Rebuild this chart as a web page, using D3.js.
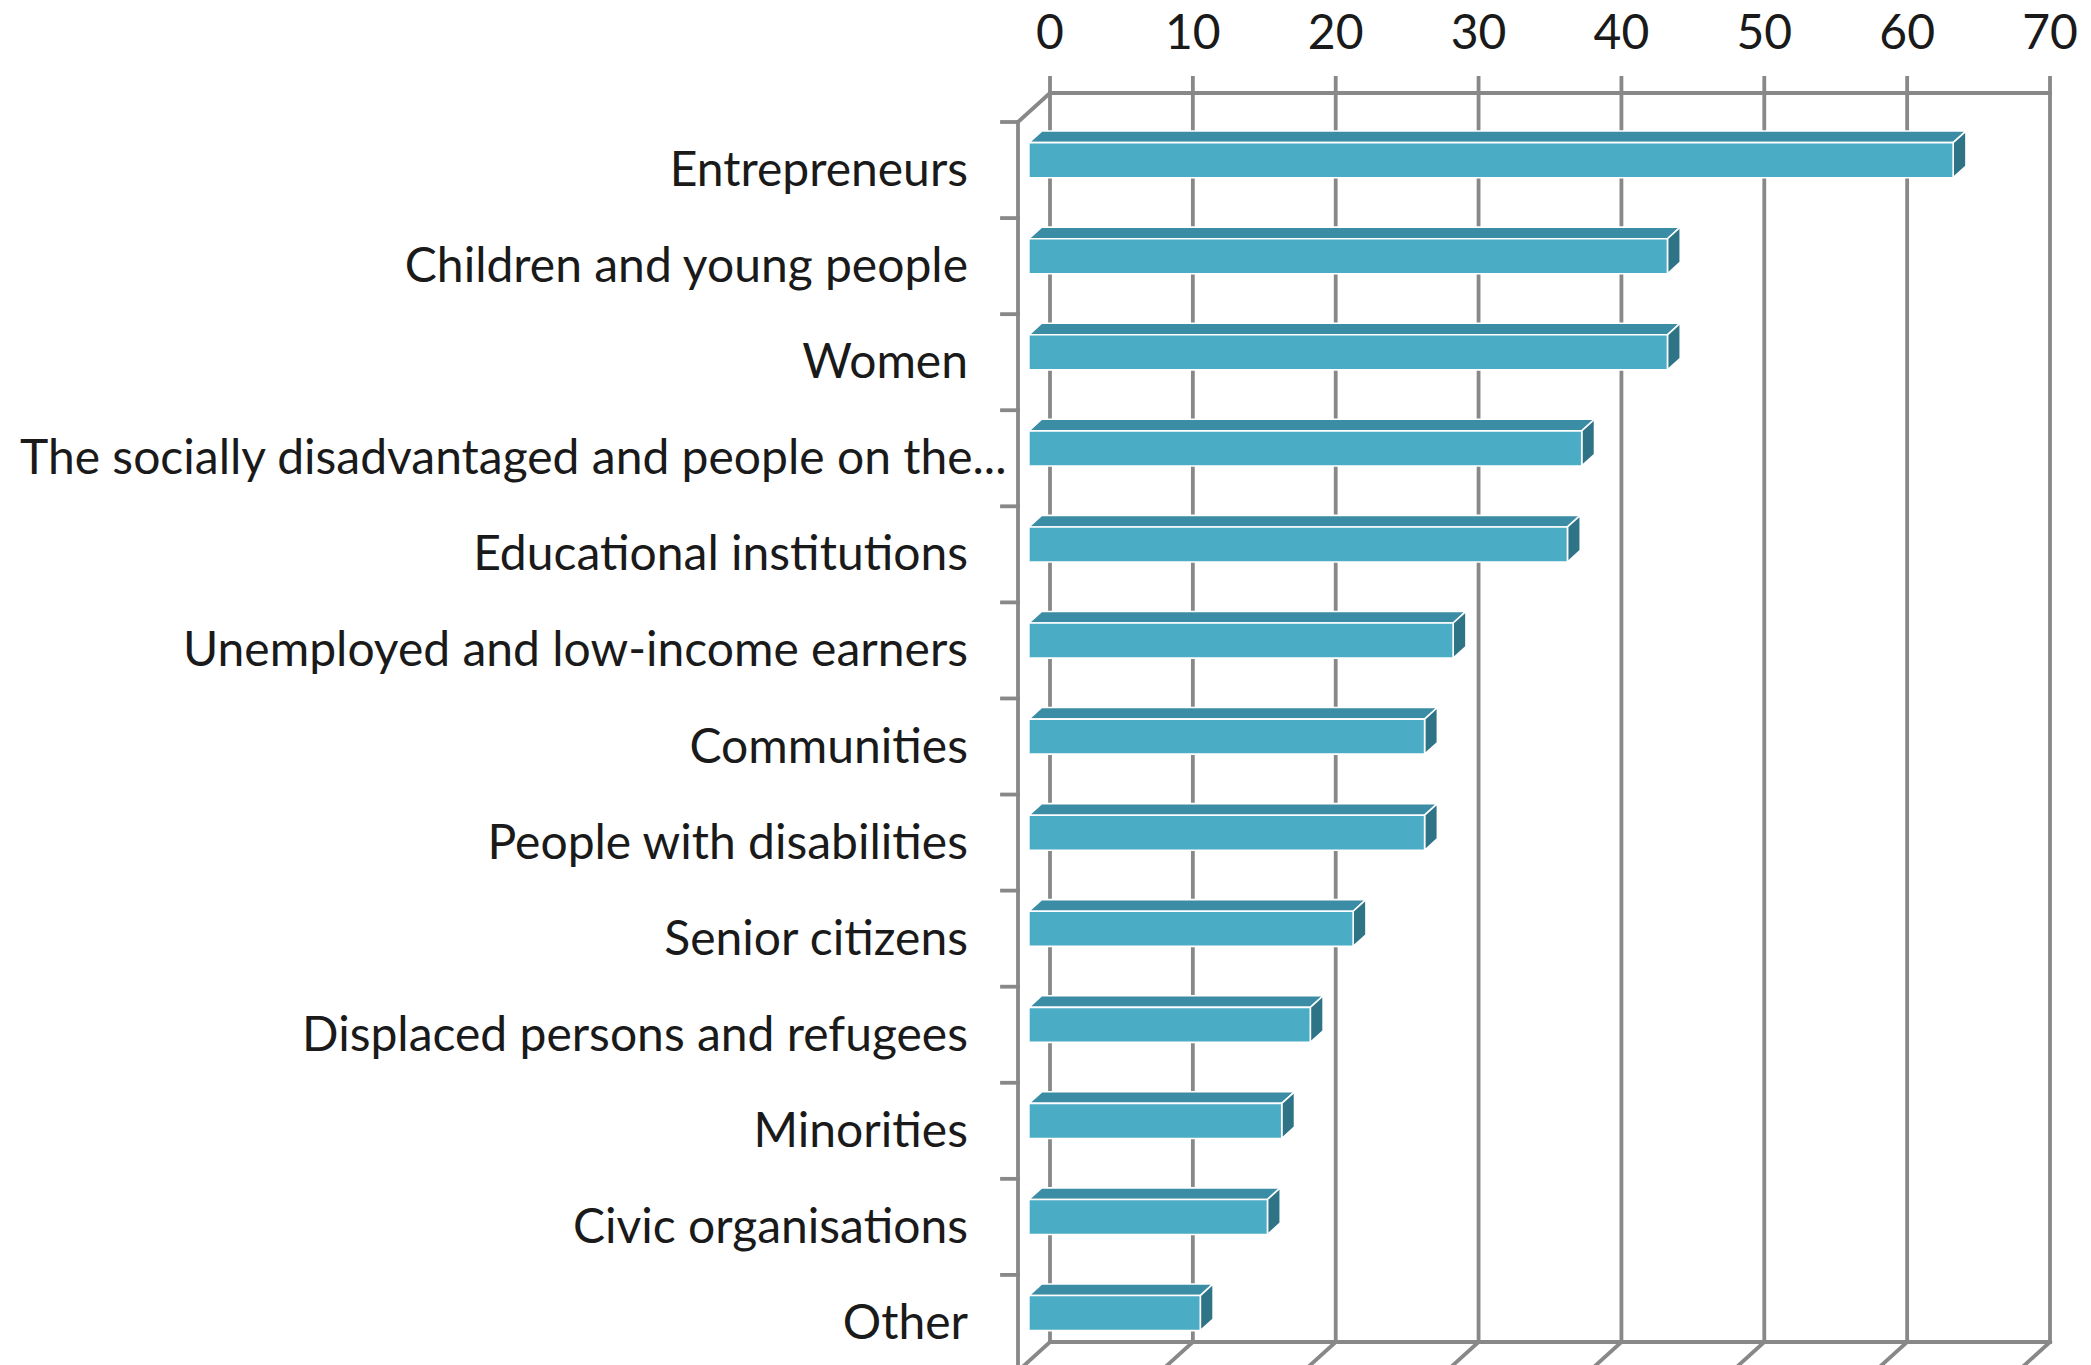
<!DOCTYPE html>
<html>
<head>
<meta charset="utf-8">
<script src="https://cdn.jsdelivr.net/npm/d3@7"></script>
<style>
  html, body { margin: 0; padding: 0; background: #ffffff; }
  svg { display: block; }
</style>
</head>
<body>
<svg id="chart" width="2091" height="1365"></svg>
<script>
// Target groups, listed top to bottom
const categories = [
  "Entrepreneurs",
  "Children and young people",
  "Women",
  "The socially disadvantaged and people on the...",
  "Educational institutions",
  "Unemployed and low-income earners",
  "Communities",
  "People with disabilities",
  "Senior citizens",
  "Displaced persons and refugees",
  "Minorities",
  "Civic organisations",
  "Other"
];

// Share of responses for each group
const values = [64.7, 44.7, 44.7, 38.7, 37.7, 29.7, 27.7, 27.7, 22.7, 19.7, 17.7, 16.7, 12.0];

// Value axis ticks
const tickValues = [0, 10, 20, 30, 40, 50, 60, 70];
const tickLabels = ["0", "10", "20", "30", "40", "50", "60", "70"];

const svg = d3.select("#chart");

// Oblique 3D box: the front plane is mapped by the scales, depth shifts up-right
const depthX = 32, depthY = -29;
const x = d3.scaleLinear().domain([0, 70]).range([1018, 2018]);
const y = d3.scaleBand().domain(categories).range([122, 1371])
  .paddingInner(0.635).paddingOuter(0.3175);
const proj = (px, py, d) => [px + d * depthX, py + d * depthY];

const gridColor = "#888888";
const gridWidth = 3.8;
const font = "Lato, 'Open Sans', sans-serif";
const fontSize = 48;

const walls = svg.append("g").attr("stroke", gridColor).attr("stroke-width", gridWidth)
  .attr("fill", "none").attr("stroke-linecap", "square");

const yTop = y.range()[0], yBot = y.range()[1];
const [bx0, byTop] = proj(x(0), yTop, 1);
const [bx1, byBot] = proj(x(70), yBot, 1);

// Back wall: vertical gridlines (with tick stubs above), top and bottom edges
tickValues.forEach(t => {
  const bx = proj(x(t), 0, 1)[0];
  walls.append("line").attr("x1", bx).attr("x2", bx).attr("y1", byTop - 15).attr("y2", byBot);
  // floor edge running toward the viewer
  walls.append("line").attr("x1", bx).attr("y1", byBot).attr("x2", x(t)).attr("y2", yBot);
});
walls.append("line").attr("x1", bx0).attr("x2", bx1).attr("y1", byTop).attr("y2", byTop);
walls.append("line").attr("x1", bx0).attr("x2", bx1).attr("y1", byBot).attr("y2", byBot);

// Side wall: front vertical edge and top corner edge
walls.append("line").attr("x1", x(0)).attr("x2", x(0)).attr("y1", yTop).attr("y2", yBot);
walls.append("line").attr("x1", x(0)).attr("y1", yTop).attr("x2", bx0).attr("y2", byTop);

// Category tick marks between bands
const step = y.step();
d3.range(categories.length + 1).forEach(i => {
  const ty = yTop + i * step;
  walls.append("line").attr("x1", x(0) - 16).attr("x2", x(0)).attr("y1", ty).attr("y2", ty);
});

// Value axis labels along the top of the back wall
svg.append("g").selectAll("text").data(tickValues).join("text")
  .attr("x", t => proj(x(t), 0, 1)[0])
  .attr("y", 49)
  .attr("text-anchor", "middle")
  .attr("font-family", font)
  .attr("font-size", fontSize)
  .attr("fill", "#1a1a1a")
  .text((t, i) => tickLabels[i]);

// Bars as boxes sitting in the middle of the depth
const f1 = 0.34, f2 = 0.74;
const ddx = (f2 - f1) * depthX, ddy = (f2 - f1) * depthY;
const bars = svg.append("g").attr("stroke", "#ffffff").attr("stroke-width", 1.6)
  .attr("stroke-linejoin", "round");

categories.forEach((c, i) => {
  const v = values[i];
  const [X0, Y0] = proj(x(0), y(c), f1);
  const [X1] = proj(x(v), y(c), f1);
  const Y1 = Y0 + y.bandwidth();
  const g = bars.append("g");
  // top face
  g.append("path")
    .attr("d", `M${X0},${Y0}L${X1},${Y0}L${X1 + ddx},${Y0 + ddy}L${X0 + ddx},${Y0 + ddy}Z`)
    .attr("fill", "#3a8da4");
  // end face
  g.append("path")
    .attr("d", `M${X1},${Y0}L${X1 + ddx},${Y0 + ddy}L${X1 + ddx},${Y1 + ddy}L${X1},${Y1}Z`)
    .attr("fill", "#2f7386");
  // front face
  g.append("rect")
    .attr("x", X0).attr("y", Y0)
    .attr("width", X1 - X0).attr("height", Y1 - Y0)
    .attr("fill", "#4bacc6");
});

// Category labels, right-aligned beside the side wall
const labelRight = 968, labelLeft = 20;
const labels = svg.append("g").selectAll("text").data(categories).join("text")
  .attr("y", c => y(c) + y.bandwidth() / 2 + 16)
  .attr("font-family", font)
  .attr("font-size", fontSize)
  .attr("fill", "#1a1a1a")
  .text(c => c);
labels.each(function () {
  const w = this.getComputedTextLength();
  const sx = Math.max(labelLeft, labelRight - w);
  d3.select(this).attr("x", sx);
});
</script>
</body>
</html>
